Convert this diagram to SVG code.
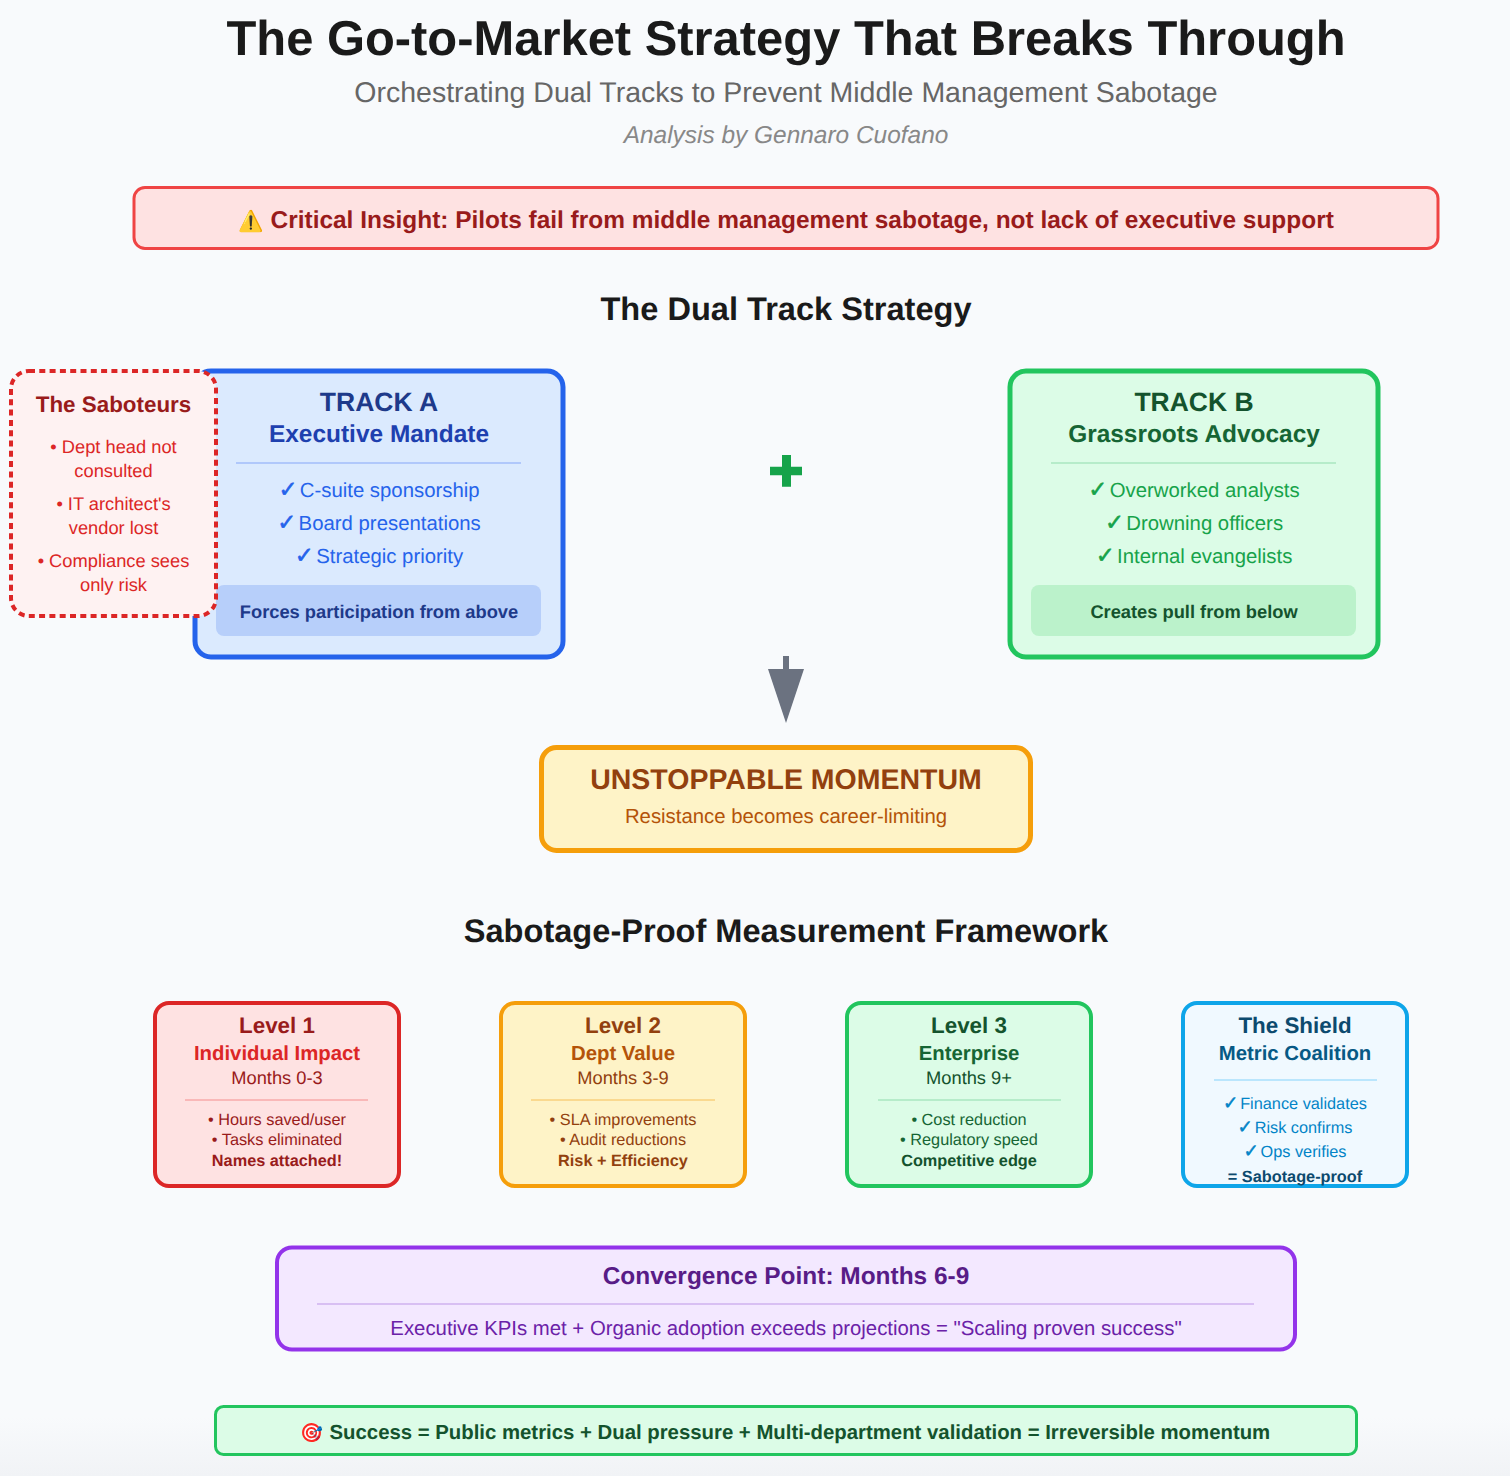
<svg xmlns="http://www.w3.org/2000/svg" width="1510" height="1476" viewBox="0 0 1510 1476">
<defs><linearGradient id="bg" x1="0" y1="0" x2="0" y2="1"><stop offset="0" stop-color="#f8fafc"/><stop offset="0.96" stop-color="#f8fafc"/><stop offset="1" stop-color="#f1f3f6"/></linearGradient></defs>
<style>
text{font-family:"Liberation Sans",Arial,sans-serif;text-anchor:middle;text-rendering:geometricPrecision}
.b{font-weight:700}
.k{font-family:"DejaVu Sans",sans-serif;font-size:1.12em;letter-spacing:-0.15em;stroke-width:0.55px}
#track-a .k{stroke:#2563eb}
#track-b .k{stroke:#16a34a}
#shield .k{stroke:#0284c7}
.s16{font-size:16.3px}.s18{font-size:18.3px}.s20{font-size:20.35px}.s22{font-size:22.4px}
</style>
<rect width="1510" height="1476" fill="url(#bg)"/>
<g id="header">
<text x="786" y="55" class="b" font-size="48.9" fill="#1a1a1a">The Go-to-Market Strategy That Breaks Through</text>
<text x="786" y="102" font-size="28.5" fill="#666666">Orchestrating Dual Tracks to Prevent Middle Management Sabotage</text>
<text x="786" y="143" font-size="24.45" font-style="italic" fill="#888888">Analysis by Gennaro Cuofano</text>
</g>
<g id="critical-insight">
<rect x="134" y="187.500" width="1304" height="61" rx="11" fill="#fee2e2" stroke="#ef4444" stroke-width="3"/>
<text x="786" y="228" class="b" font-size="24.45" fill="#991b1b"><tspan font-size="20.5">⚠️</tspan> Critical Insight: Pilots fail from middle management sabotage, not lack of executive support</text>
</g>
<text x="786" y="320" class="b" font-size="32.6" fill="#1a1a1a">The Dual Track Strategy</text>
<g id="track-a">
<rect x="195" y="371" width="368" height="286" rx="16" fill="#dbeafe" stroke="#2563eb" stroke-width="5"/>
<text x="379" y="411" class="b" font-size="26.5" fill="#1e3a8a">TRACK A</text>
<text x="379" y="441.500" class="b" font-size="24.45" fill="#1e40af">Executive Mandate</text>
<rect x="236" y="462" width="285" height="2" fill="#b0c8fb"/>
<text x="379" y="497" class="s20" fill="#2563eb"><tspan class="k">✓</tspan> C-suite sponsorship</text>
<text x="379" y="530" class="s20" fill="#2563eb"><tspan class="k">✓</tspan> Board presentations</text>
<text x="379" y="563" class="s20" fill="#2563eb"><tspan class="k">✓</tspan> Strategic priority</text>
<rect x="216" y="585" width="325" height="51" rx="8" fill="#b7cffa"/>
<text x="379" y="618" class="b s18" fill="#1e3a8a">Forces participation from above</text>
</g>
<g id="saboteurs">
<rect x="11" y="371" width="205" height="245" rx="18" fill="#fef2f2" stroke="#dc2626" stroke-width="4" stroke-dasharray="6 4.300"/>
<text x="113.500" y="412" class="b s22" fill="#991b1b">The Saboteurs</text>
<text x="113.500" y="453" class="s18" fill="#dc2626">• Dept head not</text>
<text x="113.500" y="477" class="s18" fill="#dc2626">consulted</text>
<text x="113.500" y="510" class="s18" fill="#dc2626">• IT architect's</text>
<text x="113.500" y="534" class="s18" fill="#dc2626">vendor lost</text>
<text x="113.500" y="567" class="s18" fill="#dc2626">• Compliance sees</text>
<text x="113.500" y="591" class="s18" fill="#dc2626">only risk</text>
</g>
<g id="track-b">
<rect x="1010" y="371" width="368" height="286" rx="16" fill="#dcfce7" stroke="#22c55e" stroke-width="5"/>
<text x="1194" y="411" class="b" font-size="26.5" fill="#14532d">TRACK B</text>
<text x="1194" y="441.500" class="b" font-size="24.45" fill="#166534">Grassroots Advocacy</text>
<rect x="1051" y="462" width="285" height="2" fill="#b6ecca"/>
<text x="1194" y="497" class="s20" fill="#16a34a"><tspan class="k">✓</tspan> Overworked analysts</text>
<text x="1194" y="530" class="s20" fill="#16a34a"><tspan class="k">✓</tspan> Drowning officers</text>
<text x="1194" y="563" class="s20" fill="#16a34a"><tspan class="k">✓</tspan> Internal evangelists</text>
<rect x="1031" y="585" width="325" height="51" rx="8" fill="#bbf2cb"/>
<text x="1194" y="618" class="b s18" fill="#14532d">Creates pull from below</text>
</g>
<g id="connectors">
<path d="M782 455h9v11.700h11v8.600h-11v11.500h-9v-11.500h-12v-8.600h12z" fill="#16a34a"/>
<path d="M783 656h6v13h15l-18 54-18-54h15z" fill="#6b7280"/>
</g>
<g id="momentum">
<rect x="541.500" y="747.500" width="489" height="103" rx="15" fill="#fef3c7" stroke="#f59e0b" stroke-width="5"/>
<text x="786" y="789" class="b" font-size="28.5" fill="#92400e">UNSTOPPABLE MOMENTUM</text>
<text x="786" y="823" class="s20" fill="#b45309">Resistance becomes career-limiting</text>
</g>
<text x="786" y="942" class="b" font-size="32.6" fill="#1a1a1a">Sabotage-Proof Measurement Framework</text>
<g id="level-1">
<rect x="155" y="1003" width="244" height="183" rx="14" fill="#fee2e2" stroke="#dc2626" stroke-width="4"/>
<text x="277" y="1033" class="b s22" fill="#991b1b">Level 1</text>
<text x="277" y="1060" class="b s20" fill="#dc2626">Individual Impact</text>
<text x="277" y="1084" class="s18" fill="#991b1b">Months 0-3</text>
<rect x="185" y="1099" width="183" height="2" fill="#f9b8b8"/>
<text x="277" y="1125" class="s16" fill="#991b1b">• Hours saved/user</text>
<text x="277" y="1145" class="s16" fill="#991b1b">• Tasks eliminated</text>
<text x="277" y="1166" class="b s16" fill="#991b1b">Names attached!</text>
</g>
<g id="level-2">
<rect x="501" y="1003" width="244" height="183" rx="14" fill="#fef3c7" stroke="#f59e0b" stroke-width="4"/>
<text x="623" y="1033" class="b s22" fill="#92400e">Level 2</text>
<text x="623" y="1060" class="b s20" fill="#b45309">Dept Value</text>
<text x="623" y="1084" class="s18" fill="#92400e">Months 3-9</text>
<rect x="531" y="1099" width="184" height="2" fill="#fad98f"/>
<text x="623" y="1125" class="s16" fill="#92400e">• SLA improvements</text>
<text x="623" y="1145" class="s16" fill="#92400e">• Audit reductions</text>
<text x="623" y="1166" class="b s16" fill="#92400e">Risk + Efficiency</text>
</g>
<g id="level-3">
<rect x="847" y="1003" width="244" height="183" rx="14" fill="#dcfce7" stroke="#22c55e" stroke-width="4"/>
<text x="969" y="1033" class="b s22" fill="#14532d">Level 3</text>
<text x="969" y="1060" class="b s20" fill="#166534">Enterprise</text>
<text x="969" y="1084" class="s18" fill="#14532d">Months 9+</text>
<rect x="878" y="1099" width="183" height="2" fill="#b6ecca"/>
<text x="969" y="1125" class="s16" fill="#166534">• Cost reduction</text>
<text x="969" y="1145" class="s16" fill="#166534">• Regulatory speed</text>
<text x="969" y="1166" class="b s16" fill="#14532d">Competitive edge</text>
</g>
<g id="shield">
<rect x="1183" y="1003" width="224" height="183" rx="14" fill="#f0f9ff" stroke="#0ea5e9" stroke-width="4"/>
<text x="1295" y="1033" class="b s22" fill="#0c4a6e">The Shield</text>
<text x="1295" y="1060" class="b s20" fill="#075985">Metric Coalition</text>
<rect x="1214" y="1079" width="163" height="2" fill="#bae6fd"/>
<text x="1295" y="1109" class="s16" fill="#0284c7"><tspan class="k">✓</tspan> Finance validates</text>
<text x="1295" y="1133" class="s16" fill="#0284c7"><tspan class="k">✓</tspan> Risk confirms</text>
<text x="1295" y="1157" class="s16" fill="#0284c7"><tspan class="k">✓</tspan> Ops verifies</text>
<text x="1295" y="1182" class="b s16" fill="#0c4a6e">= Sabotage-proof</text>
</g>
<g id="convergence">
<rect x="277" y="1247.500" width="1018" height="102" rx="15" fill="#f3e8ff" stroke="#9333ea" stroke-width="4"/>
<text x="786" y="1284" class="b" font-size="24.45" fill="#581c87">Convergence Point: Months 6-9</text>
<rect x="317" y="1303" width="937" height="2" fill="#d8bff3"/>
<text x="786" y="1335" class="s20" fill="#6b21a8">Executive KPIs met + Organic adoption exceeds projections = "Scaling proven success"</text>
</g>
<g id="success">
<rect x="215.500" y="1406.500" width="1141" height="48" rx="8" fill="#dcfce7" stroke="#22c55e" stroke-width="3"/>
<text x="785.500" y="1439" class="b s20" fill="#14532d"><tspan font-size="18.5">🎯</tspan> Success = Public metrics + Dual pressure + Multi-department validation = Irreversible momentum</text>
</g>
</svg>
